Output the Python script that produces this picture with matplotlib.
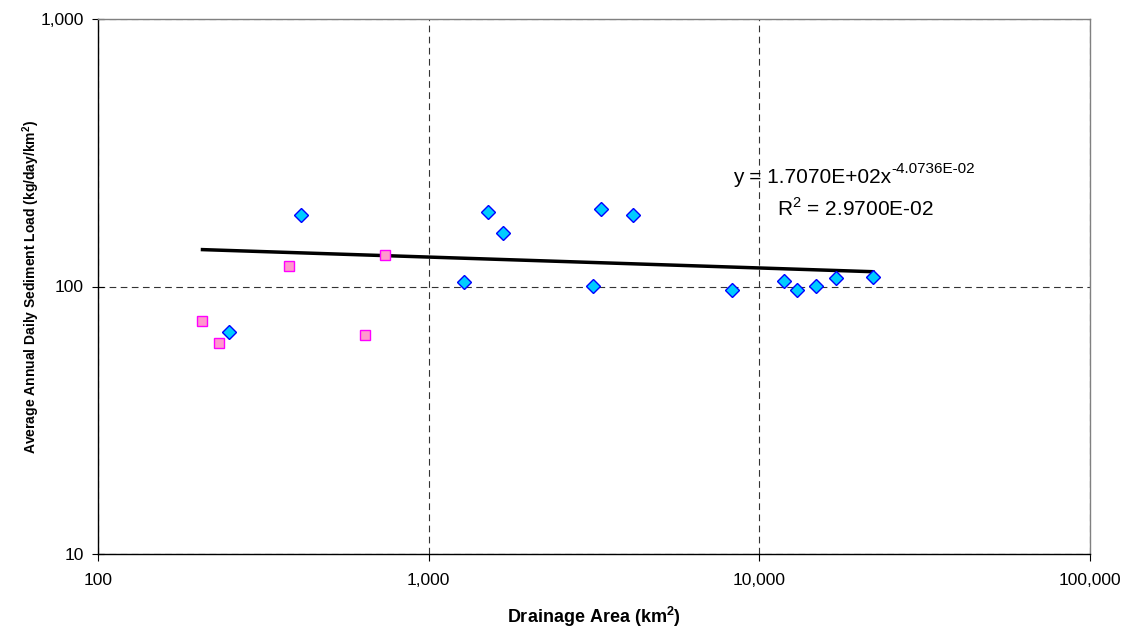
import numpy as np
import matplotlib.pyplot as plt
from matplotlib.ticker import FixedLocator, FuncFormatter, NullLocator

plt.rcParams['font.family'] = ['Liberation Sans', 'DejaVu Sans']

# pink squares
area_sq = [207, 233, 378, 642, 738]
load_sq = [74.3, 61.4, 119.6, 65.9, 131.2]

# blue diamonds
area_dm = [249, 411, 1282, 1508, 1682, 3141, 3320, 4140, 8250, 11850, 12970, 14800, 17050, 22020]
load_dm = [67.4, 184.6, 104.2, 189.9, 158.1, 100.4, 195.4, 185.0, 96.8, 105.1, 97.0, 100.4, 107.9, 108.2]

# power trendline y = a * x^b
coef_a = 170.70
coef_b = -0.040736

fig = plt.figure(figsize=(11.28, 6.27), dpi=100)
ax = fig.add_axes([98 / 1128, 1 - 554 / 627, (1090 - 98) / 1128, (554 - 19) / 627])

ax.set_xscale('log')
ax.set_yscale('log')
ax.set_xlim(100, 100000)
ax.set_ylim(10, 1000)

ax.grid(True, which='major', color='#333333', linestyle=(0, (6, 4)), linewidth=0.8)
ax.set_axisbelow(True)

all_x = area_sq + area_dm
xs = np.linspace(min(all_x), max(all_x), 100)
ax.plot(xs, coef_a * xs ** coef_b, color='black', linewidth=2.5, zorder=3)

ax.plot(area_dm, load_dm, linestyle='none', marker='D', markersize=6.8,
        markerfacecolor='#00CCFF', markeredgecolor='#0000FF', markeredgewidth=1, zorder=4)
ax.plot(area_sq, load_sq, linestyle='none', marker='s', markersize=7,
        markerfacecolor='#FF99CC', markeredgecolor='#FF00FF', markeredgewidth=1, zorder=4)

# trendline label
eq = ax.text(0.8, 0.703, 'y = 1.7070E+02x', transform=ax.transAxes,
             fontsize=15, ha='right', va='center')
ax.annotate('-4.0736E-02', xy=(1.0, 0.95), xycoords=eq, ha='left', va='center', fontsize=11)
ax.text(0.763, 0.645, r'R$^{\mathregular{2}}$ = 2.9700E-02', transform=ax.transAxes,
        fontsize=15, ha='center', va='center')

ax.xaxis.set_major_locator(FixedLocator([100, 1000, 10000, 100000]))
ax.yaxis.set_major_locator(FixedLocator([10, 100, 1000]))
ax.xaxis.set_minor_locator(NullLocator())
ax.yaxis.set_minor_locator(NullLocator())
fmt = FuncFormatter(lambda v, p: f'{int(round(v)):,}')
ax.xaxis.set_major_formatter(fmt)
ax.yaxis.set_major_formatter(fmt)
ax.tick_params(axis='x', direction='out', length=5, labelsize=12.5, pad=9)
ax.tick_params(axis='y', direction='inout', length=8, labelsize=12.5, pad=6)

for s in ['left', 'bottom']:
    ax.spines[s].set_color('black')
    ax.spines[s].set_linewidth(1)
for s in ['top', 'right']:
    ax.spines[s].set_color('#808080')
    ax.spines[s].set_linewidth(1)

ax.set_xlabel(r'Drainage Area (km$^{\mathregular{2}}$)', fontsize=13, fontweight='bold')
ax.xaxis.set_label_coords(0.5, -0.095)
ax.set_ylabel(r'Average Annual Daily Sediment Load (kg/day/km$^{\mathregular{2}}$)', fontsize=10,
              fontweight='bold')
ax.yaxis.set_label_coords(-0.056, 0.5)

fig.savefig('out.png', dpi=100)
